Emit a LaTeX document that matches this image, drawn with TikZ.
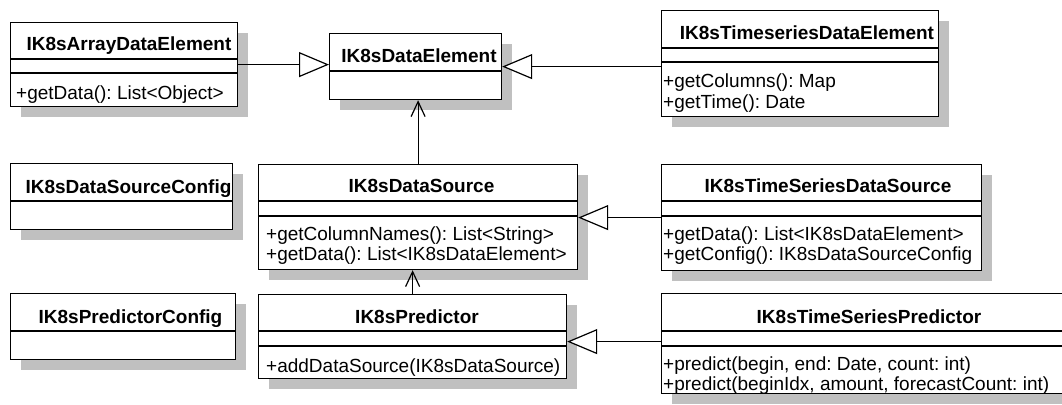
\documentclass[tikz,border=0pt]{standalone}
\usepackage{fontspec}
\setmainfont{Liberation Sans}
\usetikzlibrary{arrows.meta,shadows}
\definecolor{shadowgray}{RGB}{192,192,192}
\frenchspacing
\begin{document}
\begin{tikzpicture}[x=1pt,y=-1pt,
  cls/.style={draw, line width=1.2pt, fill=white, anchor=north west, inner sep=0pt,
    general shadow={fill=shadowgray, shadow xshift=10pt, shadow yshift=-10pt}},
  title/.style={anchor=base, inner sep=0pt, font=\fontsize{19}{20}\selectfont\bfseries\frenchspacing},
  meth/.style={anchor=base west, inner sep=0pt, font=\fontsize{19}{20}\selectfont\frenchspacing},
  sep/.style={line width=1.2pt},
  gen/.style={line width=1.2pt, -{Triangle[fill=white, length=30pt, width=25pt]}},
  assoc/.style={line width=1.2pt, -{Straight Barb[length=15pt, width=14pt]}}]
\useasboundingbox (0,0) rectangle (1062,404);
\clip (0,0) rectangle (1062,404);

% class boxes
\node[cls, minimum width=227pt, minimum height=84pt] (A) at (10,22) {};
\node[cls, minimum width=172pt, minimum height=66pt] (B) at (329,33) {};
\node[cls, minimum width=277pt, minimum height=106pt] (C) at (661,10) {};
\node[cls, minimum width=222pt, minimum height=66pt] (D) at (10,163) {};
\node[cls, minimum width=319pt, minimum height=105pt] (E) at (258,164) {};
\node[cls, minimum width=320pt, minimum height=106pt] (F) at (661,164) {};
\node[cls, minimum width=225pt, minimum height=66pt] (G) at (10,293) {};
\node[cls, minimum width=308pt, minimum height=84pt] (H) at (258,294) {};
\node[cls, minimum width=416pt, minimum height=100pt] (I) at (661,293) {};

% compartment dividers
\draw[sep] (10,59) -- (237,59);
\draw[sep] (10,73) -- (237,73);
\draw[sep] (329,71) -- (501,71);
\draw[sep] (661,48) -- (938,48);
\draw[sep] (661,62) -- (938,62);
\draw[sep] (10,201) -- (232,201);
\draw[sep] (258,201) -- (577,201);
\draw[sep] (258,216) -- (577,216);
\draw[sep] (661,201) -- (981,201);
\draw[sep] (661,216) -- (981,216);
\draw[sep] (10,331) -- (235,331);
\draw[sep] (258,331) -- (566,331);
\draw[sep] (258,346) -- (566,346);
\draw[sep] (661,331) -- (1077,331);
\draw[sep] (661,346) -- (1077,346);

% titles
\node[title] (At) at (129,51) {IK8sArrayDataElement};
\node[title] (Bt) at (419,63) {IK8sDataElement};
\node[title] (Ct) at (807,40) {IK8sTimeseriesDataElement};
\node[title] (Dt) at (128.5,193) {IK8sDataSourceConfig};
\node[title] (Et) at (421.5,192) {IK8sDataSource};
\node[title] (Ft) at (828,192) {IK8sTimeSeriesDataSource};
\node[title] (Gt) at (130.5,323) {IK8sPredictorConfig};
\node[title] (Ht) at (417,323) {IK8sPredictor};
\node[title] (It) at (869,323) {IK8sTimeSeriesPredictor};

% operations
\node[meth] (Am1) at (16,99) {+getData(): List<Object>};
\node[meth] (Cm1) at (663,87) {+getColumns(): Map};
\node[meth] (Cm2) at (663,108) {+getTime(): Date};
\node[meth] (Em1) at (266,240) {+getColumnNames(): List<String>};
\node[meth] (Em2) at (266,260) {+getData(): List<IK8sDataElement>};
\node[meth] (Fm1) at (663,240) {+getData(): List<IK8sDataElement>};
\node[meth] (Fm2) at (663,260) {+getConfig(): IK8sDataSourceConfig};
\node[meth] (Hm1) at (266,372) {+addDataSource(IK8sDataSource)};
\node[meth] (Im1) at (663,370) {+predict(begin, end: Date, count: int)};
\node[meth] (Im2) at (663,390) {+predict(beginIdx, amount, forecastCount: int)};

% connectors
\draw[gen] (A.east) -- (A.east -| B.west);
\draw[gen] (B.east -| C.west) -- (B.east);
\draw[assoc] (E.north) -- (E.north |- B.south);
\draw[gen] (F.west) -- (F.west -| E.east);
\draw[assoc] (H.north) -- (H.north |- E.south);
\draw[gen] ([yshift=2pt]I.west) -- ([yshift=2pt]I.west -| H.east);
\end{tikzpicture}
\end{document}
